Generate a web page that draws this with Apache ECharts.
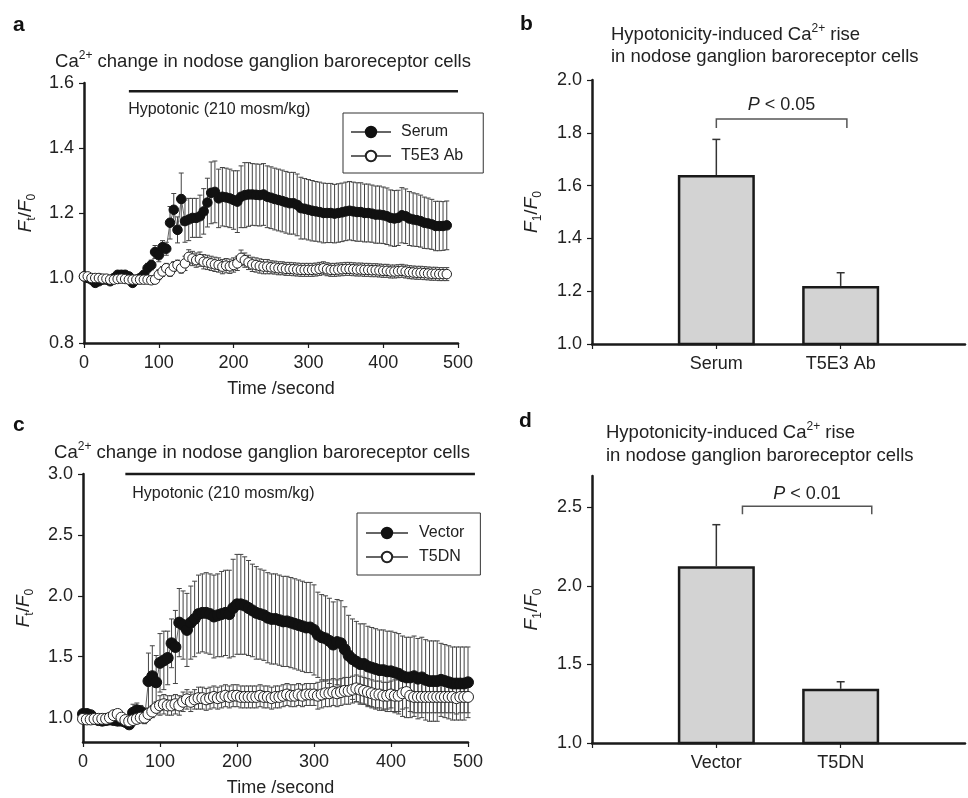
<!DOCTYPE html>
<html><head><meta charset="utf-8">
<script src="https://cdn.jsdelivr.net/npm/echarts@6/dist/echarts.min.js"></script>
<style>html,body{margin:0;padding:0;background:#fff}#c{width:968px;height:798px}</style>
</head><body><div id="c"></div>
<script>
// ---------- DATA ----------
const timeSec = [0,5,10,15,20,25,30,35,40,45,50,55,60,65,70,75,80,85,90,95,
 100,105,110,115,120,125,130,135,140,145,150,155,160,165,170,175,180,185,190,195,
 200,205,210,215,220,225,230,235,240,245,250,255,260,265,270,275,280,285,290,295,
 300,305,310,315,320,325,330,335,340,345,350,355,360,365,370,375,380,385,390,395,
 400,405,410,415,420,425,430,435,440,445,450,455,460,465,470,475,480,485,490,495,500];

// Panel a
const serumMean = [1.005,1.000,0.995,0.985,0.990,0.995,0.995,0.990,1.000,1.010,
 1.010,1.010,1.005,0.985,0.995,1.000,1.010,1.030,1.040,1.080,
 1.070,1.095,1.090,1.170,1.210,1.148,1.243,1.175,1.180,1.185,
 1.185,1.190,1.205,1.232,1.262,1.265,1.245,1.250,1.248,1.245,
 1.240,1.235,1.250,1.255,1.257,1.257,1.256,1.255,1.257,1.250,
 1.247,1.243,1.240,1.237,1.233,1.230,1.230,1.225,1.215,1.213,
 1.210,1.207,1.205,1.203,1.200,1.200,1.200,1.198,1.200,1.202,
 1.205,1.207,1.205,1.203,1.203,1.200,1.200,1.198,1.195,1.195,
 1.193,1.190,1.185,1.183,1.185,1.193,1.190,1.183,1.180,1.178,
 1.175,1.170,1.168,1.165,1.160,1.160,1.160,1.162];
const serumErr = [0.005,0.005,0.005,0.005,0.005,0.005,0.005,0.005,0.005,0.010,
 0.010,0.010,0.005,0.005,0.005,0.005,0.008,0.015,0.015,0.020,
 0.020,0.020,0.020,0.050,0.050,0.040,0.080,0.065,0.065,0.060,
 0.060,0.065,0.070,0.075,0.095,0.095,0.090,0.090,0.090,0.090,
 0.090,0.095,0.095,0.100,0.098,0.095,0.095,0.095,0.095,0.095,
 0.095,0.095,0.095,0.095,0.095,0.095,0.095,0.095,0.095,0.093,
 0.093,0.093,0.092,0.092,0.092,0.091,0.091,0.090,0.090,0.090,
 0.090,0.090,0.090,0.090,0.090,0.089,0.089,0.088,0.088,0.088,
 0.087,0.087,0.086,0.086,0.085,0.085,0.084,0.083,0.082,0.081,
 0.080,0.079,0.078,0.077,0.076,0.076,0.075,0.075];
const t5e3Mean = [1.005,1.005,1.000,1.000,1.000,0.998,0.998,0.995,0.995,0.997,
 0.998,0.997,0.995,0.995,0.995,0.995,0.995,0.995,0.993,0.995,
 1.010,1.020,1.030,1.020,1.035,1.040,1.030,1.045,1.065,1.060,
 1.055,1.058,1.050,1.048,1.045,1.042,1.040,1.035,1.038,1.036,
 1.040,1.045,1.062,1.055,1.048,1.042,1.040,1.037,1.035,1.035,
 1.033,1.032,1.030,1.030,1.028,1.028,1.027,1.026,1.025,1.025,
 1.025,1.025,1.026,1.028,1.030,1.027,1.025,1.025,1.026,1.027,
 1.028,1.028,1.027,1.026,1.026,1.025,1.025,1.024,1.024,1.023,
 1.022,1.022,1.020,1.020,1.021,1.022,1.020,1.018,1.017,1.016,
 1.016,1.015,1.014,1.013,1.013,1.012,1.012,1.012];
const t5e3Err = [0.006,0.006,0.006,0.006,0.006,0.006,0.006,0.006,0.006,0.006,
 0.006,0.006,0.006,0.006,0.006,0.006,0.006,0.006,0.006,0.006,
 0.015,0.015,0.015,0.015,0.015,0.015,0.015,0.022,0.022,0.022,
 0.022,0.022,0.022,0.022,0.022,0.022,0.022,0.022,0.022,0.022,
 0.022,0.022,0.024,0.022,0.022,0.022,0.022,0.022,0.022,0.022,
 0.020,0.020,0.020,0.020,0.020,0.020,0.020,0.020,0.020,0.020,
 0.020,0.020,0.020,0.020,0.020,0.020,0.020,0.020,0.020,0.020,
 0.020,0.020,0.020,0.020,0.020,0.020,0.020,0.020,0.020,0.020,
 0.020,0.020,0.020,0.020,0.020,0.020,0.020,0.020,0.020,0.020,
 0.020,0.020,0.020,0.020,0.020,0.020,0.020,0.020];

// Panel c
const vectorMean = [1.030,1.030,1.020,0.990,0.980,0.975,0.980,0.985,0.980,0.975,
 0.975,0.965,0.945,1.040,1.060,1.050,1.000,1.300,1.340,1.290,
 1.450,1.470,1.490,1.610,1.580,1.780,1.760,1.720,1.780,1.810,
 1.850,1.860,1.860,1.850,1.830,1.840,1.850,1.860,1.850,1.900,
 1.930,1.930,1.920,1.900,1.880,1.860,1.850,1.840,1.820,1.810,
 1.810,1.800,1.790,1.790,1.780,1.770,1.760,1.750,1.740,1.740,
 1.720,1.680,1.660,1.650,1.630,1.600,1.620,1.610,1.560,1.510,
 1.480,1.460,1.440,1.440,1.420,1.410,1.400,1.390,1.390,1.380,
 1.380,1.370,1.360,1.340,1.330,1.330,1.340,1.320,1.330,1.310,
 1.300,1.300,1.300,1.310,1.300,1.290,1.280,1.280,1.280,1.280,
 1.290];
const vectorErr = [0.02,0.02,0.02,0.02,0.02,0.02,0.02,0.02,0.02,0.02,
 0.02,0.02,0.02,0.07,0.06,0.05,0.05,0.23,0.25,0.22,
 0.24,0.24,0.22,0.20,0.30,0.28,0.28,0.30,0.30,0.31,
 0.32,0.32,0.33,0.33,0.34,0.34,0.35,0.35,0.36,0.40,
 0.41,0.41,0.40,0.39,0.38,0.38,0.37,0.37,0.37,0.37,
 0.37,0.37,0.37,0.37,0.37,0.37,0.37,0.37,0.37,0.37,
 0.37,0.35,0.35,0.35,0.35,0.35,0.35,0.35,0.35,0.33,
 0.33,0.33,0.33,0.33,0.33,0.33,0.33,0.33,0.33,0.33,
 0.33,0.33,0.33,0.33,0.33,0.33,0.33,0.33,0.33,0.33,
 0.33,0.33,0.33,0.30,0.30,0.30,0.30,0.30,0.30,0.30,
 0.29];
const t5dnMean = [0.990,0.985,0.985,0.990,0.990,0.990,0.990,1.000,1.020,1.030,
 1.000,0.980,0.970,0.980,0.990,1.000,1.000,1.030,1.050,1.080,
 1.100,1.110,1.100,1.100,1.110,1.100,1.130,1.150,1.130,1.150,
 1.160,1.160,1.150,1.160,1.170,1.160,1.170,1.180,1.170,1.180,
 1.180,1.170,1.170,1.170,1.170,1.170,1.180,1.170,1.170,1.160,
 1.170,1.170,1.180,1.190,1.180,1.180,1.190,1.180,1.190,1.190,
 1.190,1.180,1.190,1.200,1.200,1.210,1.200,1.210,1.220,1.220,
 1.230,1.240,1.230,1.220,1.210,1.200,1.190,1.190,1.180,1.180,
 1.190,1.180,1.180,1.200,1.210,1.180,1.170,1.170,1.170,1.170,
 1.170,1.170,1.170,1.170,1.170,1.170,1.170,1.160,1.170,1.170,
 1.170];
const t5dnErr = [0.02,0.02,0.02,0.02,0.02,0.02,0.02,0.02,0.02,0.02,
 0.02,0.02,0.02,0.02,0.02,0.02,0.02,0.05,0.05,0.05,
 0.08,0.08,0.08,0.08,0.08,0.08,0.08,0.08,0.08,0.08,
 0.09,0.09,0.09,0.09,0.09,0.09,0.09,0.09,0.09,0.09,
 0.09,0.09,0.09,0.09,0.09,0.09,0.09,0.09,0.09,0.09,
 0.09,0.09,0.09,0.09,0.09,0.09,0.09,0.09,0.09,0.09,
 0.09,0.11,0.11,0.11,0.11,0.11,0.11,0.11,0.11,0.11,
 0.11,0.11,0.11,0.11,0.11,0.11,0.11,0.11,0.11,0.11,
 0.11,0.13,0.13,0.13,0.13,0.13,0.13,0.13,0.13,0.13,
 0.13,0.13,0.13,0.13,0.13,0.13,0.13,0.13,0.13,0.13,
 0.13];

// Panel b
const barCatsB = ['Serum', 'T5E3 Ab'];
const barMeanB = [1.64, 1.22];
const barErrB = [0.135, 0.05];
// Panel d
const barCatsD = ['Vector', 'T5DN'];
const barMeanD = [2.125, 1.345];
const barErrD = [0.265, 0.045];

// Tick labels
const yTicksC = [1.0, 1.5, 2.0, 2.5, 3.0];
const yTicksD = [1.0, 1.5, 2.0, 2.5];

// Annotations (data coordinates)
const hypoA = [60, 500, 1.575, 59, 1.517];   // line start, end, level, text start, text level
const hypoC = [55, 509, 3.0, 64, 2.84];
const bracketB = [1, 2.05, 1.852, 1.818, 1.905, '0.05'];
const bracketD = [1.21, 2.25, 2.507, 2.456, 2.583, '0.01'];

// ---------- CHART ----------
const FONT = '"Liberation Sans", Arial, Helvetica, sans-serif';
const INK = '#1a1a1a';
const TXT = '#222';

function yName(sub) {
  return {
    name: '{f|F}{s|' + sub + '}{n|/}{f|F}{s|0}',
    nameLocation: 'middle', nameRotate: 90,
    nameTextStyle: {
      rich: {
        f: {fontStyle: 'italic', fontSize: 19, fontFamily: FONT, color: TXT, lineHeight: 24},
        n: {fontSize: 19, fontFamily: FONT, color: TXT, lineHeight: 24},
        s: {fontSize: 12, fontFamily: FONT, color: TXT, lineHeight: 12, verticalAlign: 'bottom'}
      }
    }
  };
}
const axLine = {show: true, onZero: false, lineStyle: {color: INK, width: 2.5}};
const axTick = {show: true, inside: false, length: 5, lineStyle: {color: INK, width: 1.2}};
const axLabel = {color: TXT, fontSize: 18, fontFamily: FONT, margin: 10};
const fmt1 = v => Number(v).toFixed(1);

function timeAxis(gi, padLeft) {
  return {type: 'value', gridIndex: gi, min: 0, max: 500, interval: 100,
    axisLine: axLine, axisTick: axTick, splitLine: {show: false},
    axisLabel: Object.assign({}, axLabel, {margin: 11}),
    name: 'Time /second', nameLocation: 'middle', nameGap: 37,
    nameTextStyle: {fontSize: 18, fontFamily: FONT, color: TXT, padding: [0, 0, 0, padLeft]}};
}
function catAxis(gi, cats) {
  const data = [''].concat(cats, ['']);
  return {type: 'category', gridIndex: gi, data: data, boundaryGap: false,
    axisLine: axLine,
    axisTick: Object.assign({}, axTick, {interval: (idx) => idx < data.length - 1}),
    splitLine: {show: false},
    axisLabel: Object.assign({}, axLabel, {interval: 0, margin: 11})};
}

function errRender(color, cap) {
  return function (params, api) {
    const x = api.value(0), m = api.value(1), e = api.value(2);
    const t = api.coord([x, m + e]), b = api.coord([x, m - e]);
    const st = {stroke: color, lineWidth: 1};
    return {type: 'group', children: [
      {type: 'line', shape: {x1: t[0], y1: t[1], x2: b[0], y2: b[1]}, style: st},
      {type: 'line', shape: {x1: t[0] - cap, y1: t[1], x2: t[0] + cap, y2: t[1]}, style: st},
      {type: 'line', shape: {x1: b[0] - cap, y1: b[1], x2: b[0] + cap, y2: b[1]}, style: st}
    ]};
  };
}
function barErrRender(params, api) {
  const x = api.value(0), m = api.value(1), e = api.value(2);
  const t = api.coord([x, m + e]), b = api.coord([x, m]);
  const st = {stroke: '#333', lineWidth: 1.5};
  return {type: 'group', children: [
    {type: 'line', shape: {x1: t[0], y1: t[1], x2: b[0], y2: b[1]}, style: st},
    {type: 'line', shape: {x1: t[0] - 4, y1: t[1], x2: t[0] + 4, y2: t[1]}, style: st}
  ]};
}
// category coordinate with fractional index (interpolated between neighbouring categories)
function catCoord(api, x, y) {
  const i0 = Math.floor(x), f = x - i0;
  const a = api.coord([i0, y]), b = api.coord([i0 + 1, y]);
  return [a[0] + (b[0] - a[0]) * f, a[1]];
}
function bracketRender(params, api) {
  const d = bracketData[params.seriesName];
  const p1 = catCoord(api, d[0], d[3]), p2 = catCoord(api, d[0], d[2]);
  const p3 = catCoord(api, d[1], d[2]), p4 = catCoord(api, d[1], d[3]);
  const pt = catCoord(api, (d[0] + d[1]) / 2, d[4]);
  return {type: 'group', children: [
    {type: 'polyline', shape: {points: [p1, p2, p3, p4]}, style: {stroke: '#555', lineWidth: 1.5, fill: null}},
    {type: 'text', x: pt[0], y: pt[1], style: {
      text: '{i|P}{n| < ' + d[5] + '}', align: 'center', verticalAlign: 'middle',
      fontSize: 18, fontFamily: FONT, fill: TXT,
      rich: {i: {fontStyle: 'italic', fontSize: 18, fontFamily: FONT, fill: TXT},
             n: {fontSize: 18, fontFamily: FONT, fill: TXT}}}}
  ]};
}
const bracketData = {bracketB: bracketB, bracketD: bracketD};
function hypoRender(h) {
  return function (params, api) {
    const a = api.coord([h[0], h[2]]), b = api.coord([h[1], h[2]]);
    const tp = api.coord([h[3], h[4]]);
    return {type: 'group', children: [
      {type: 'line', shape: {x1: a[0], y1: a[1], x2: b[0], y2: b[1]}, style: {stroke: INK, lineWidth: 2.5}},
      {type: 'text', x: tp[0], y: tp[1], style: {text: 'Hypotonic (210 mosm/kg)', align: 'left',
        verticalAlign: 'middle', fontSize: 16, fontFamily: FONT, fill: TXT}}
    ]};
  };
}

const supRich = {
  n: {fontSize: 18.5, fontFamily: FONT, fill: TXT, lineHeight: 24},
  s: {fontSize: 12, fontFamily: FONT, fill: TXT, lineHeight: 13, verticalAlign: 'top'}
};
function title(x, y, text, align) {
  return {type: 'text', x: x, y: y, silent: true, style: {text: text, align: align, verticalAlign: 'middle',
    fontSize: 18.5, fontFamily: FONT, fill: TXT, rich: supRich}};
}
function panelLabel(x, y, t) {
  return {type: 'text', x: x, y: y, silent: true, style: {text: t, fontSize: 21, fontWeight: 'bold',
    fontFamily: FONT, fill: '#111', verticalAlign: 'middle'}};
}

const filledStyle = {color: '#111', borderColor: '#111', borderWidth: 1};
const openStyle = {color: '#fff', borderColor: '#222', borderWidth: 1};
function lineSeries(name, xi, mean, size, style, z) {
  return {type: 'line', name: name, xAxisIndex: xi, yAxisIndex: xi,
    data: mean.map((v, i) => [timeSec[i], v]),
    symbol: 'circle', symbolSize: size, showAllSymbol: true, clip: false, silent: true,
    lineStyle: {color: '#666', width: 1}, itemStyle: style, z: z};
}
function errSeries(xi, mean, err) {
  return {type: 'custom', xAxisIndex: xi, yAxisIndex: xi, silent: true, z: 3,
    data: mean.map((v, i) => [timeSec[i], v, err[i]]), renderItem: errRender('#444', 2.5)};
}

const option = {
  animation: false,
  backgroundColor: '#fff',
  grid: [
    {left: 84, top: 83, width: 374, height: 260},
    {left: 592, top: 80, width: 383, height: 264},
    {left: 83, top: 474, width: 385, height: 268},
    {left: 592, top: 476, width: 383, height: 267}
  ],
  xAxis: [timeAxis(0, 20), catAxis(1, barCatsB), timeAxis(2, 10), catAxis(3, barCatsD)],
  yAxis: [
    Object.assign({type: 'value', gridIndex: 0, min: 0.8, max: 1.6, interval: 0.2, axisLine: axLine, axisTick: axTick,
      splitLine: {show: false}, axisLabel: Object.assign({}, axLabel, {formatter: fmt1}), nameGap: 46}, yName('t')),
    Object.assign({type: 'value', gridIndex: 1, min: 1.0, max: 2.0, interval: 0.2, axisLine: axLine, axisTick: axTick,
      splitLine: {show: false}, axisLabel: Object.assign({}, axLabel, {formatter: fmt1}), nameGap: 48}, yName('1')),
    Object.assign({type: 'value', gridIndex: 2, min: 0.8, max: 3.0, axisLine: axLine,
      axisTick: Object.assign({}, axTick, {customValues: yTicksC}),
      splitLine: {show: false}, axisLabel: Object.assign({}, axLabel, {formatter: fmt1, customValues: yTicksC}), nameGap: 47}, yName('t')),
    Object.assign({type: 'value', gridIndex: 3, min: 1.0, max: 2.7, axisLine: axLine,
      axisTick: Object.assign({}, axTick, {customValues: yTicksD}),
      splitLine: {show: false}, axisLabel: Object.assign({}, axLabel, {formatter: fmt1, customValues: yTicksD}), nameGap: 48}, yName('1'))
  ],
  legend: [
    {data: ['Serum', 'T5E3 Ab'], orient: 'vertical', left: 343, top: 113, itemWidth: 40, itemHeight: 13, itemGap: 8,
     borderColor: '#333', borderWidth: 1, padding: [11, 20, 9, 7], selectedMode: false,
     textStyle: {fontSize: 16, fontFamily: FONT, color: TXT, padding: [0, 0, 0, 5]}},
    {data: ['Vector', 'T5DN'], orient: 'vertical', left: 357, top: 513, itemWidth: 42, itemHeight: 13, itemGap: 8,
     borderColor: '#333', borderWidth: 1, padding: [12, 16, 10, 8], selectedMode: false,
     textStyle: {fontSize: 16, fontFamily: FONT, color: TXT, padding: [0, 0, 0, 6]}}
  ],
  graphic: [
    panelLabel(13, 25, 'a'), panelLabel(520, 24, 'b'), panelLabel(13, 425, 'c'), panelLabel(519, 421, 'd'),
    title(263, 62, '{n|Ca}{s|2+}{n| change in nodose ganglion baroreceptor cells}', 'center'),
    title(262, 453, '{n|Ca}{s|2+}{n| change in nodose ganglion baroreceptor cells}', 'center'),
    title(611, 35, '{n|Hypotonicity-induced Ca}{s|2+}{n| rise}', 'left'),
    title(611, 57, '{n|in nodose ganglion baroreceptor cells}', 'left'),
    title(606, 433, '{n|Hypotonicity-induced Ca}{s|2+}{n| rise}', 'left'),
    title(606, 456, '{n|in nodose ganglion baroreceptor cells}', 'left')
  ],
  series: [
    errSeries(0, serumMean, serumErr),
    errSeries(0, t5e3Mean, t5e3Err),
    lineSeries('Serum', 0, serumMean, 9.5, filledStyle, 4),
    lineSeries('T5E3 Ab', 0, t5e3Mean, 9.5, openStyle, 5),
    {type: 'custom', xAxisIndex: 0, yAxisIndex: 0, silent: true, data: [[hypoA[0], hypoA[2]]], renderItem: hypoRender(hypoA), z: 6},

    {type: 'bar', xAxisIndex: 1, yAxisIndex: 1, silent: true, barWidth: 77,
     data: barCatsB.map((c, i) => [c, barMeanB[i]]),
     itemStyle: {color: '#d3d3d3', borderColor: INK, borderWidth: 2.5}, z: 2},
    {type: 'custom', xAxisIndex: 1, yAxisIndex: 1, silent: true, z: 3,
     data: barCatsB.map((c, i) => [c, barMeanB[i], barErrB[i]]), renderItem: barErrRender},
    {type: 'custom', name: 'bracketB', xAxisIndex: 1, yAxisIndex: 1, silent: true, z: 3,
     data: [[bracketB[0], bracketB[2]]], renderItem: bracketRender},

    errSeries(2, vectorMean, vectorErr),
    errSeries(2, t5dnMean, t5dnErr),
    lineSeries('Vector', 2, vectorMean, 11, filledStyle, 4),
    lineSeries('T5DN', 2, t5dnMean, 11, openStyle, 5),
    {type: 'custom', xAxisIndex: 2, yAxisIndex: 2, silent: true, data: [[hypoC[0], hypoC[2]]], renderItem: hypoRender(hypoC), z: 6},

    {type: 'bar', xAxisIndex: 3, yAxisIndex: 3, silent: true, barWidth: 77,
     data: barCatsD.map((c, i) => [c, barMeanD[i]]),
     itemStyle: {color: '#d3d3d3', borderColor: INK, borderWidth: 2.5}, z: 2},
    {type: 'custom', xAxisIndex: 3, yAxisIndex: 3, silent: true, z: 3,
     data: barCatsD.map((c, i) => [c, barMeanD[i], barErrD[i]]), renderItem: barErrRender},
    {type: 'custom', name: 'bracketD', xAxisIndex: 3, yAxisIndex: 3, silent: true, z: 3,
     data: [[bracketD[0], bracketD[2]]], renderItem: bracketRender}
  ]
};
const chart = echarts.init(document.getElementById('c'), null, {renderer: 'canvas'});
chart.setOption(option);
</script></body></html>
